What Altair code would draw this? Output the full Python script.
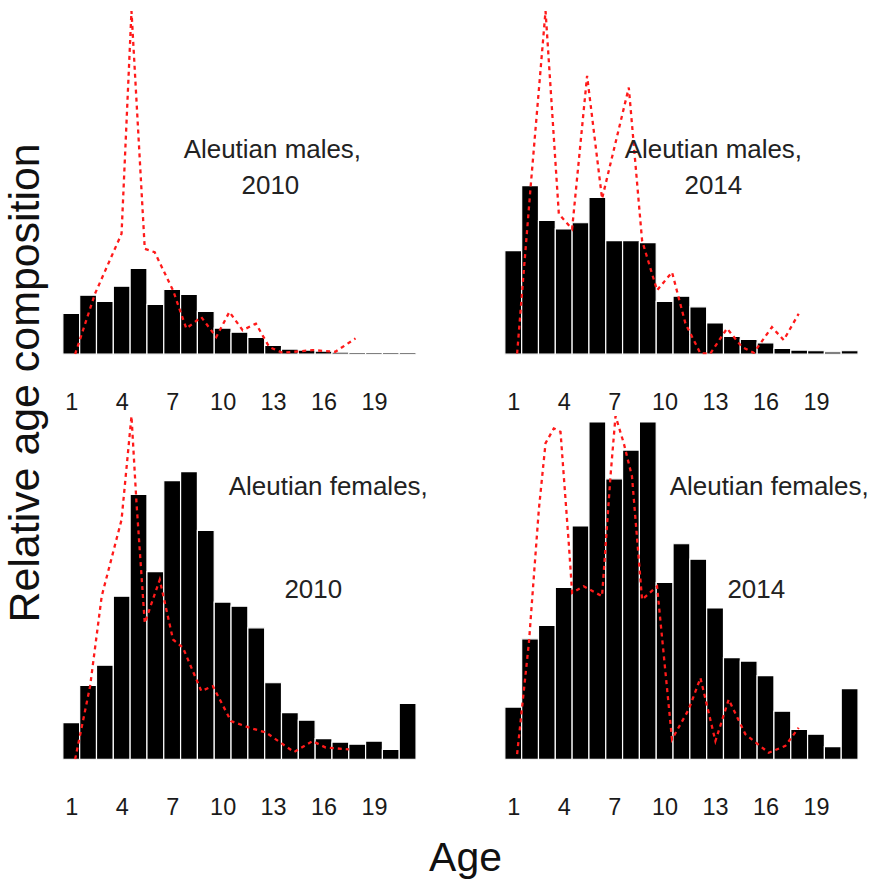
import altair as alt
import pandas as pd

FONT = "Liberation Sans"

# ---- data -------------------------------------------------------------
ages = list(range(1, 22))

# bar heights: relative age composition (observed), per panel
males_2010 = [0.119, 0.172, 0.154, 0.198, 0.250, 0.145, 0.189, 0.174, 0.125, 0.076,
              0.064, 0.049, 0.026, 0.015, 0.012, 0.009, 0.006, 0.005, 0.005, 0.005, 0.005]
males_2014 = [0.302, 0.491, 0.390, 0.365, 0.383, 0.457, 0.331, 0.331, 0.325, 0.154,
              0.169, 0.138, 0.091, 0.052, 0.043, 0.033, 0.017, 0.012, 0.010, 0.007, 0.010]
females_2010 = [0.107, 0.215, 0.274, 0.475, 0.772, 0.547, 0.812, 0.838, 0.667, 0.458,
                0.446, 0.383, 0.223, 0.136, 0.114, 0.060, 0.050, 0.044, 0.053, 0.029, 0.163]
females_2014 = [0.152, 0.351, 0.390, 0.501, 0.680, 0.983, 0.817, 0.901, 0.983, 0.515,
                0.628, 0.583, 0.441, 0.296, 0.286, 0.244, 0.140, 0.087, 0.073, 0.037, 0.206]

# red dashed curves (expected composition), read as (age, value) vertices
m10_line_age = [1.23, 2.41, 3.99, 4.58, 5.37, 5.96, 7.05, 7.84, 8.73, 9.62, 10.4, 11.19,
                11.98, 12.77, 13.56, 15.34, 16.7, 17.9]
m10_line_val = [0.0, 0.176, 0.351, 1.0, 0.307, 0.297, 0.186, 0.075, 0.108, 0.05, 0.123, 0.07,
                0.089, 0.021, 0.004, 0.012, 0.007, 0.046]

m14_line_age = [1.23, 2.03, 2.92, 3.71, 4.5, 5.39, 6.28, 7.87, 8.66, 9.55, 10.44, 11.24,
                12.13, 12.72, 13.71, 14.6, 15.3, 16.38, 17.08, 17.97]
m14_line_val = [0.002, 0.486, 1.0, 0.409, 0.365, 0.811, 0.453, 0.777, 0.331, 0.186, 0.239, 0.089,
                0.002, 0.002, 0.075, 0.021, 0.004, 0.079, 0.041, 0.118]

f10_line_age = [1.23, 2.12, 2.81, 3.99, 4.58, 4.88, 5.37, 6.26, 7.05, 7.64, 8.73, 9.42,
                10.5, 11.59, 12.58, 14.25, 15.34, 16.13, 17.51]
f10_line_val = [0.0, 0.213, 0.475, 0.698, 1.0, 0.746, 0.397, 0.523, 0.349, 0.325, 0.199, 0.213,
                0.111, 0.092, 0.078, 0.021, 0.053, 0.034, 0.029]

f14_line_age = [1.23, 1.93, 2.52, 2.92, 3.41, 3.81, 4.3, 4.5, 5.19, 6.28, 6.78, 7.08, 7.57,
                8.06, 8.66, 9.55, 10.44, 11.43, 12.13, 13.02, 13.81, 14.8, 16.19, 17.18, 17.97]
f14_line_val = [0.015, 0.339, 0.727, 0.921, 0.964, 0.954, 0.63, 0.485, 0.504, 0.475, 0.824, 1.0, 0.921,
                0.824, 0.465, 0.504, 0.058, 0.145, 0.237, 0.053, 0.174, 0.073, 0.019, 0.039, 0.092]

tick_values = [1, 4, 7, 10, 13, 16, 19]

panel_labels = [
    ("Aleutian males,", "2010"),
    ("Aleutian males,", "2014"),
    ("Aleutian females,", "2010"),
    ("Aleutian females,", "2014"),
]

# ---- layout constants --------------------------------------------------
W, H = 354, 344
label_pos = [
    ((210, 147), (208, 183)),
    ((209, 147), (209, 183)),
    ((266, 79), (251, 182)),
    ((265, 79), (252, 182)),
]

xscale = alt.Scale(domain=[0.5, 21.5], nice=False, zero=False)
yscale = alt.Scale(domain=[0, 1], nice=False, zero=True)
xaxis = alt.Axis(
    values=tick_values,
    title=None,
    domain=False,
    ticks=False,
    tickSize=0,
    grid=False,
    labelFont=FONT,
    labelFontSize=23.5,
    labelColor="#1a1a1a",
    labelPadding=36,
)


def panel(bars, line_age, line_val, labels, pos):
    bar_df = pd.DataFrame({"age": ages, "value": bars})
    line_df = pd.DataFrame({"age": line_age, "value": line_val})

    bar_layer = (
        alt.Chart(bar_df)
        .transform_calculate(lo="datum.age - 0.5", hi="datum.age + 0.5")
        .mark_bar(color="black", stroke="white", strokeWidth=1.2)
        .encode(
            x=alt.X("lo:Q", scale=xscale, axis=xaxis),
            x2="hi:Q",
            y=alt.Y("value:Q", scale=yscale, axis=None),
            y2=alt.datum(0),
        )
    )
    line_layer = (
        alt.Chart(line_df)
        .mark_line(color="#ff1a1a", strokeDash=[4, 4], strokeWidth=2.3, clip=True)
        .encode(
            x=alt.X("age:Q", scale=xscale, axis=xaxis),
            y=alt.Y("value:Q", scale=yscale, axis=None),
        )
    )
    txt1 = (
        alt.Chart(pd.DataFrame({"t": [labels[0]]}))
        .mark_text(font=FONT, fontSize=26, color="#222222", align="center",
                   baseline="alphabetic")
        .encode(text="t:N", x=alt.value(pos[0][0]), y=alt.value(pos[0][1]))
    )
    txt2 = (
        alt.Chart(pd.DataFrame({"t": [labels[1]]}))
        .mark_text(font=FONT, fontSize=26, color="#222222", align="center",
                   baseline="alphabetic")
        .encode(text="t:N", x=alt.value(pos[1][0]), y=alt.value(pos[1][1]))
    )
    return alt.layer(bar_layer, line_layer, txt1, txt2).properties(width=W, height=H)


p1 = panel(males_2010, m10_line_age, m10_line_val, panel_labels[0], label_pos[0])
p2 = panel(males_2014, m14_line_age, m14_line_val, panel_labels[1], label_pos[1])
p3 = panel(females_2010, f10_line_age, f10_line_val, panel_labels[2], label_pos[2])
p4 = panel(females_2014, f14_line_age, f14_line_val, panel_labels[3], label_pos[3])

grid = alt.concat(
    p1, p2, p3, p4, columns=2, spacing={"row": 62, "column": 89}, bounds="flush",
    title=alt.TitleParams("Age", orient="bottom", anchor="middle", font=FONT,
                          fontSize=41, fontWeight="normal", color="#111111", offset=20),
)
chart = alt.hconcat(
    grid,
    title=alt.TitleParams("Relative age composition", orient="left", anchor="middle",
                          font=FONT, fontSize=43, fontWeight="normal", color="#111111",
                          offset=14, dx=62),
).properties(
    padding={"left": 5, "top": 10, "right": 5, "bottom": 5}
).configure_view(stroke=None)

chart.save("out.html", embed_options={"renderer": "svg", "actions": False})
